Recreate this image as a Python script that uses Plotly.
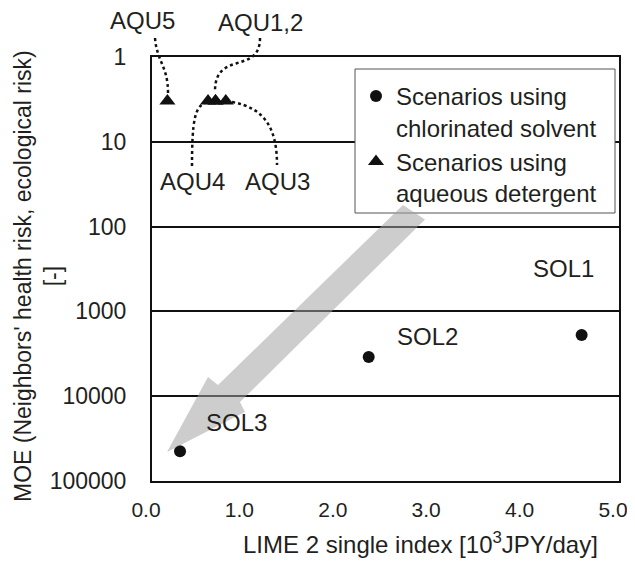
import plotly.graph_objects as go

# ---- data ----
sol_names = ["SOL1", "SOL2", "SOL3"]
sol_x = [4.60, 2.32, 0.30]
sol_y = [1900, 3450, 44500]

aqu_names = ["AQU1", "AQU2", "AQU3", "AQU4", "AQU5"]
aqu_x = [0.68, 0.68, 0.79, 0.60, 0.165]
aqu_y = [3.3, 3.3, 3.3, 3.3, 3.3]

x_ticks = [0, 1, 2, 3, 4, 5]
x_ticktext = ["0.0", "1.0", "2.0", "3.0", "4.0", "5.0"]
y_ticks = [1, 10, 100, 1000, 10000, 100000]
y_ticktext = ["1", "10", "100", "1000", "10000", "100000"]

legend_names = ["Scenarios using<br>chlorinated solvent",
                "Scenarios using<br>aqueous detergent"]

# ---- layout geometry (page has an 8px body margin) ----
OFF = 8
W, H = 635 - 2 * OFF, 566 - 2 * OFF
PL, PR, PT, PB = 152, 619, 57, 481          # plot box in window pixels
ML, MT = PL - OFF, PT - OFF
MR, MB = W - (PR - OFF), H - (PB - OFF)
PW, PH = PR - PL, PB - PT
FONT = "Liberation Sans, Arial, sans-serif"
TXT = "#231f20"


def px(x):
    return (x - PL) / PW


def py(y):
    return (PB - y) / PH


def path(cmds):
    out = []
    for c in cmds:
        if isinstance(c, str):
            out.append(c)
        else:
            out.append(f"{px(c[0]):.5f},{py(c[1]):.5f}")
    return " ".join(out)


fig = go.Figure()
fig.add_trace(go.Scatter(
    x=sol_x, y=sol_y, mode="markers", name=legend_names[0], text=sol_names,
    legendgroup="a",
    marker=dict(symbol="circle", size=12, color="#111111")))
fig.add_trace(go.Scatter(
    x=aqu_x, y=aqu_y, mode="markers", name=legend_names[1], text=aqu_names,
    legendgroup="b",
    marker=dict(symbol="triangle-up", size=14, color="#111111")))

shapes = []
# legend background & frame
shapes.append(dict(type="rect", xref="paper", yref="paper", layer="above",
                   x0=px(355), x1=px(615), y0=py(213), y1=py(69),
                   fillcolor="white", line=dict(color="#555555", width=1)))
# big translucent arrow
arrow = path(["M", (403, 205), "L", (218, 385), "L", (208, 377), "L", (167, 452),
              "L", (245, 412), "L", (240, 402), "L", (425, 219.5), "Z"])
shapes.append(dict(type="path", xref="paper", yref="paper", layer="above",
                   path=arrow, fillcolor="rgba(160,160,160,0.53)",
                   line=dict(width=0)))
# dotted leader lines
leaders = [
    ["M", (155, 38), "C", (157, 62), (168, 66), (168, 93)],
    ["M", (260, 38), "C", (260, 75), (215, 50), (215, 91)],
    ["M", (192, 166), "C", (192, 120), (195, 107), (205, 103)],
    ["M", (232, 102), "C", (266, 108), (277, 130), (277, 165)],
]
for l in leaders:
    shapes.append(dict(type="path", xref="paper", yref="paper", layer="above",
                       path=path(l), line=dict(color="#111111", width=2.5, dash="dot")))

annotations = []
labels = [("AQU5", 142, 21), ("AQU1,2", 260, 22), ("AQU4", 192, 181),
          ("AQU3", 277, 181), ("SOL1", 563, 268), ("SOL2", 427, 336),
          ("SOL3", 236, 422)]
for t, x, y in labels:
    annotations.append(dict(text=t, x=px(x), y=py(y), xref="paper", yref="paper",
                            showarrow=False, xanchor="center", yanchor="middle",
                            font=dict(size=24, color=TXT, family=FONT)))
annotations.append(dict(text="LIME 2 single index [10<sup>3</sup>JPY/day]",
                        x=px(420), y=py(543), xref="paper", yref="paper",
                        showarrow=False, xanchor="center", yanchor="middle",
                        font=dict(size=24, color=TXT, family=FONT)))
annotations.append(dict(text="MOE (Neighbors' health risk, ecological risk)<br>[-]",
                        x=px(38), y=py(276), xref="paper", yref="paper",
                        textangle=-90, showarrow=False,
                        xanchor="center", yanchor="middle",
                        font=dict(size=23, color=TXT, family=FONT)))

fig.update_layout(
    width=W, height=H,
    margin=dict(l=ML, r=MR, t=MT, b=MB, autoexpand=False),
    paper_bgcolor="white", plot_bgcolor="white",
    font=dict(family=FONT, color=TXT, size=22),
    showlegend=True,
    legend=dict(x=px(356), y=py(74), xanchor="left", yanchor="top",
                bgcolor="rgba(0,0,0,0)", borderwidth=0,
                font=dict(size=24, color=TXT, family=FONT),
                valign="top", tracegroupgap=0, itemwidth=30),
    xaxis=dict(range=[0, 5], tickvals=x_ticks, ticktext=x_ticktext,
               showgrid=False, zeroline=False, showline=True, mirror=True,
               linecolor="#111111", linewidth=2, automargin=False,
               ticks="outside", ticklen=9, tickcolor="rgba(0,0,0,0)",
               ticklabeloverflow="allow", ticklabelshift=-6,
               tickfont=dict(size=21, color=TXT, family=FONT)),
    yaxis=dict(type="log", range=[5, 0], tickvals=y_ticks, ticktext=y_ticktext,
               showgrid=True, gridcolor="#111111", gridwidth=2,
               zeroline=False, showline=True, mirror=True,
               linecolor="#111111", linewidth=2, automargin=False,
               ticks="outside", ticklen=19, tickcolor="rgba(0,0,0,0)",
               ticklabeloverflow="allow",
               tickfont=dict(size=23, color=TXT, family=FONT)),
    shapes=shapes,
    annotations=annotations,
)

fig.write_html("out.html")
